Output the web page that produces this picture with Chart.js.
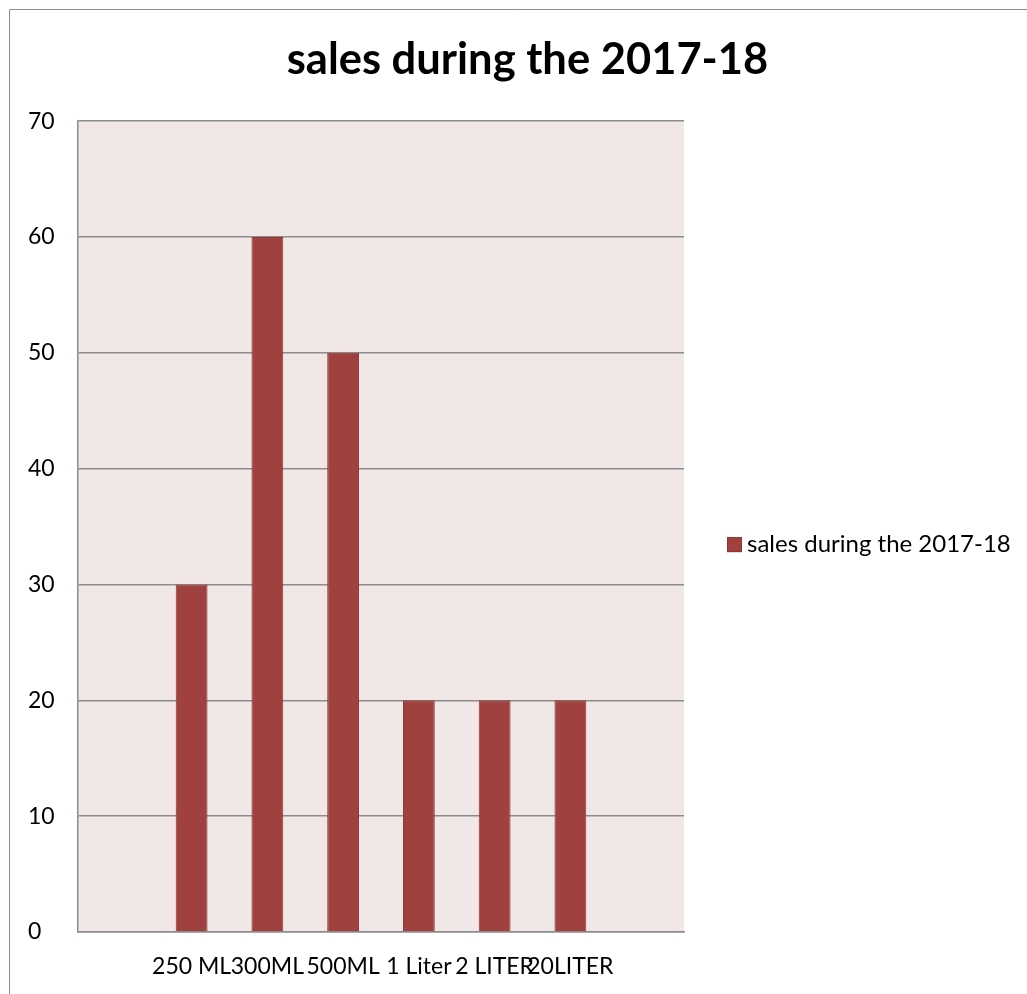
<!DOCTYPE html>
<html>
<head>
<meta charset="utf-8">
<title>sales during the 2017-18</title>
<script src="https://cdn.jsdelivr.net/npm/chart.js@4/dist/chart.umd.min.js"></script>
<style>
  html, body { margin: 0; padding: 0; background: #fff; }
  #grafico { display: block; }
</style>
</head>
<body>
<canvas id="grafico" width="1027" height="994"></canvas>
<script>
// empty slots at both ends, like the original sheet
const categorias = ['', '250 ML', '300ML', '500ML', '1 Liter', '2 LITER', '20LITER', ''];
const ventas = [null, 30, 60, 50, 20, 20, 20, null];
const ticksY = [0, 10, 20, 30, 40, 50, 60, 70];
const nombreSerie = 'sales during the 2017-18';

const fuente = 'Lato, "Open Sans", sans-serif';
const colorBarra = '#9e413f';
const colorBorde = '#8a3735';

// frame around the chart + pink plot area
const fondo = {
    id: 'fondo',
    beforeDraw(chart) {
        const ctx = chart.ctx;
        const a = chart.chartArea;
        ctx.save();
        ctx.strokeStyle = '#8c8c8c';
        ctx.lineWidth = 1;
        ctx.beginPath();
        ctx.moveTo(9.5, chart.height);
        ctx.lineTo(9.5, 9.5);
        ctx.lineTo(chart.width, 9.5);
        ctx.stroke();
        ctx.fillStyle = '#f2e7e7';
        ctx.fillRect(a.left, a.top, a.right - a.left, a.bottom - a.top);
        ctx.restore();
    }
};

// the built-in legend gets squeezed on the right, so draw it by hand
const leyenda = {
    id: 'leyenda',
    afterDraw(chart) {
        const ctx = chart.ctx;
        const a = chart.chartArea;
        const ds = chart.data.datasets[0];
        const x = a.right + 43;
        const y = (a.top + a.bottom) / 2 + 18;
        ctx.save();
        ctx.fillStyle = ds.backgroundColor;
        ctx.strokeStyle = ds.borderColor;
        ctx.lineWidth = 1;
        ctx.fillRect(x, y - 7.5, 15, 15);
        ctx.strokeRect(x + 0.5, y - 7, 14, 14);
        ctx.fillStyle = '#000';
        ctx.font = '24px ' + fuente;
        ctx.textBaseline = 'middle';
        ctx.fillText(ds.label, x + 20, y);
        ctx.restore();
    }
};

new Chart(document.getElementById('grafico'), {
    type: 'bar',
    data: {
        labels: categorias,
        datasets: [{
            label: nombreSerie,
            data: ventas,
            backgroundColor: colorBarra,
            borderColor: colorBorde,
            borderWidth: 1,
            categoryPercentage: 1,
            barPercentage: 0.42
        }]
    },
    options: {
        responsive: false,
        animation: false,
        layout: { padding: { left: 28, right: 0, top: 0, bottom: 0 } },
        scales: {
            x: {
                afterFit(scale) {
                    scale.height = 62;
                },
                grid: { display: false },
                border: { display: true, color: '#8c8c8c', width: 1.5 },
                ticks: {
                    autoSkip: false,
                    maxRotation: 0,
                    minRotation: 0,
                    padding: 13,
                    color: '#000',
                    font: { family: fuente, size: 23 }
                }
            },
            y: {
                min: 0,
                max: 70,
                afterBuildTicks(scale) {
                    scale.ticks = ticksY.map(v => ({ value: v }));
                },
                afterFit(scale) {
                    scale.width = 50;
                },
                grid: { color: '#8c8c8c', lineWidth: 1.5, drawTicks: false },
                border: { display: true, color: '#8c8c8c', width: 1.5 },
                ticks: {
                    crossAlign: 'far',
                    padding: 22,
                    color: '#000',
                    font: { family: fuente, size: 23 }
                }
            },
            // empty axis on the right, only keeps room for the legend
            hueco: {
                position: 'right',
                afterFit(scale) {
                    scale.width = 343;
                },
                grid: { display: false },
                border: { display: false },
                ticks: { display: false }
            }
        },
        plugins: {
            title: {
                display: true,
                text: nombreSerie,
                color: '#000',
                font: { family: fuente, size: 43.5, weight: 'bold' },
                padding: { top: 34, bottom: 35 }
            },
            legend: { display: false },
            tooltip: { enabled: false }
        }
    },
    plugins: [fondo, leyenda]
});
</script>
</body>
</html>
